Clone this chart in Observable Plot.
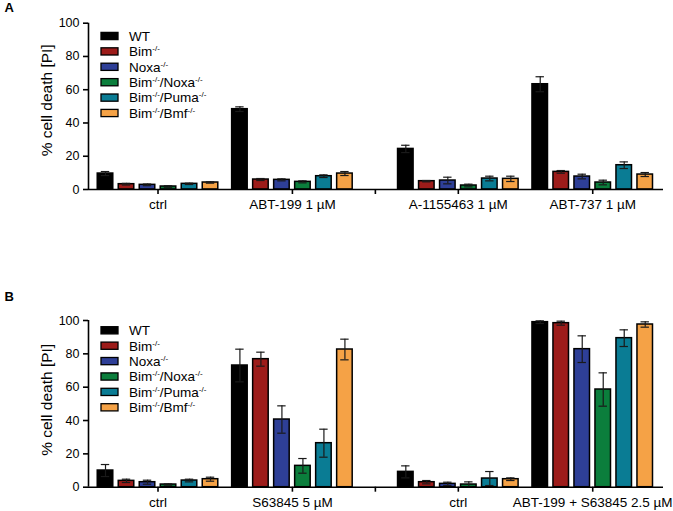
<!DOCTYPE html>
<html>
<head>
<meta charset="utf-8">
<script src="https://cdn.jsdelivr.net/npm/d3@7"></script>
<script src="https://cdn.jsdelivr.net/npm/@observablehq/plot@0.6"></script>
<style>
  html, body { margin: 0; padding: 0; background: #fff; }
  #chart svg { display: block; }
</style>
</head>
<body>
<div id="chart"></div>
<script>
// ---- data ----
const series = ["WT", "Bim-/-", "Noxa-/-", "Bim-/-/Noxa-/-", "Bim-/-/Puma-/-", "Bim-/-/Bmf-/-"];
const colors = ["#000000", "#9d1c1a", "#2e3f97", "#0b7e3c", "#0a7c94", "#f5a246"];
const yTicks = [0, 20, 40, 60, 80, 100];
const yLabel = "% cell death [PI]";

const treatmentsA = ["ctrl", "ABT-199 1 µM", "A-1155463 1 µM", "ABT-737 1 µM"];
const meanA = [
  [9.6, 3.2, 2.8, 1.8, 3.4, 4.2],
  [48.3, 6.0, 5.8, 4.6, 8.0, 9.6],
  [24.4, 5.0, 5.4, 2.4, 6.6, 6.4],
  [63.3, 10.6, 7.8, 4.2, 14.6, 9.0]
];
const errA = [
  [1.2, 0.5, 0.5, 0.5, 0.4, 0.4],
  [1.4, 0.6, 0.6, 0.6, 0.8, 1.2],
  [2.2, 0.4, 2.0, 0.8, 1.4, 1.6],
  [4.5, 0.8, 1.4, 1.4, 2.0, 1.2]
];

const treatmentsB = ["ctrl", "S63845 5 µM", "ctrl", "ABT-199 + S63845 2.5 µM"];
const meanB = [
  [10.0, 3.8, 3.0, 1.6, 4.0, 4.8],
  [73.0, 76.8, 40.6, 12.8, 26.4, 82.6],
  [9.2, 3.0, 2.0, 1.6, 5.2, 4.8],
  [99.0, 98.4, 82.8, 58.6, 89.4, 97.6]
];
const errB = [
  [3.6, 1.0, 1.2, 0.4, 0.8, 1.2],
  [9.8, 4.2, 8.2, 4.4, 8.4, 6.2],
  [3.6, 1.0, 1.0, 1.6, 4.2, 0.8],
  [0.8, 1.2, 8.0, 10.0, 5.0, 1.6]
];

// ---- layout (in bar-pitch units) ----
const FONT = "'Liberation Sans', Arial, Helvetica, sans-serif";
const edge = 3.31, groupStep = 6.4, gapStep = 3.95, tailStep = 3.37, halfBar = 0.37, capHalf = 0.2;
const c0 = edge, c1 = c0 + groupStep, cg = c1 + gapStep, c2 = cg + gapStep, c3 = c2 + groupStep;
const groupCenters = [c0, c1, c2, c3];
const tickCenters = [c0, c1, cg, c2, c3];
const xMax = c3 + tailStep;

function legendMark(topOffset) {
  return (index, scales, values, dims) => {
    const fs = 13.5;
    const g = d3.create("svg:g")
      .attr("font-family", FONT).attr("font-size", fs)
      .attr("text-anchor", "start").attr("fill", "black");
    series.forEach((s, i) => {
      const cy = dims.marginTop + topOffset + i * 15.4;
      g.append("rect")
        .attr("x", dims.marginLeft + 13).attr("y", cy - 3.6)
        .attr("width", 17).attr("height", 7.2)
        .attr("fill", colors[i]).attr("stroke", "black").attr("stroke-width", 1.3);
      const t = g.append("text")
        .attr("x", dims.marginLeft + 41)
        .attr("y", cy + 0.36 * fs)
        .attr("fill", "black").attr("stroke", "none");
      let shifted = false;
      s.split(/(-\/-)/).forEach(part => {
        if (!part) return;
        if (part === "-/-") {
          const sp = t.append("tspan").attr("font-size", 8).text(part);
          if (!shifted) sp.attr("dy", -5);
          shifted = true;
        } else {
          const sp = t.append("tspan").text(part);
          if (shifted) sp.attr("dy", 5);
          shifted = false;
        }
      });
    });
    return g.node();
  };
}

function panel({letter, treatments, mean, err, height, marginTop, marginBottom, legendTop, letterDy, yLabelDy}) {
  const rows = [];
  treatments.forEach((t, gi) => {
    series.forEach((s, si) => {
      rows.push({treatment: t, series: s, x: groupCenters[gi] + (si - 2.5), v: mean[gi][si], e: err[gi][si]});
    });
  });
  const tickLabels = [treatments[0], treatments[1], "", treatments[2], treatments[3]];
  return Plot.plot({
    width: 673,
    height,
    marginLeft: 88,
    marginRight: 10,
    marginTop,
    marginBottom,
    style: {fontFamily: FONT, color: "black", background: "white"},
    x: {domain: [0, xMax]},
    y: {domain: [0, 100]},
    color: {domain: series, range: colors},
    marks: [
      Plot.rectY(rows, {x1: d => d.x - halfBar, x2: d => d.x + halfBar, y1: 0, y2: "v", fill: "series", stroke: "black", strokeWidth: 1.5}),
      Plot.ruleX(rows, {x: "x", y1: d => d.v - d.e, y2: d => d.v + d.e, stroke: "#1a1a1a", strokeWidth: 1.2}),
      Plot.ruleY(rows, {y: d => d.v + d.e, x1: d => d.x - capHalf, x2: d => d.x + capHalf, stroke: "#1a1a1a", strokeWidth: 1.2}),
      Plot.ruleY(rows, {y: d => d.v - d.e, x1: d => d.x - capHalf, x2: d => d.x + capHalf, stroke: "#1a1a1a", strokeWidth: 1.2}),
      Plot.ruleY([0], {stroke: "black", strokeWidth: 1.6}),
      Plot.ruleX([0], {stroke: "black", strokeWidth: 1.6}),
      Plot.axisY({ticks: yTicks, tickSize: 5, tickPadding: 4, fontSize: 12.5, strokeWidth: 1.6, label: null}),
      Plot.axisX({ticks: tickCenters, tickFormat: d => tickLabels[tickCenters.indexOf(d)], tickSize: 5, tickPadding: 5, fontSize: 13.5, strokeWidth: 1.6, label: null}),
      Plot.text([yLabel], {frameAnchor: "left", textAnchor: "middle", lineAnchor: "middle", rotate: -90, dx: -41, dy: yLabelDy, fontSize: 15.5, fill: "black"}),
      Plot.text([letter], {frameAnchor: "top-left", textAnchor: "start", dx: -84, dy: letterDy, fontSize: 13, fontWeight: "bold", fill: "black"}),
      legendMark(legendTop)
    ]
  });
}

const chart = document.getElementById("chart");
chart.append(panel({letter: "A", treatments: treatmentsA, mean: meanA, err: errA,
  height: 250, marginTop: 22.7, marginBottom: 61, legendTop: 13.3, letterDy: -20, yLabelDy: -6}));
chart.append(panel({letter: "B", treatments: treatmentsB, mean: meanB, err: errB,
  height: 261, marginTop: 70, marginBottom: 24.3, legendTop: 10.3, letterDy: -28.5, yLabelDy: -4}));
</script>
</body>
</html>
